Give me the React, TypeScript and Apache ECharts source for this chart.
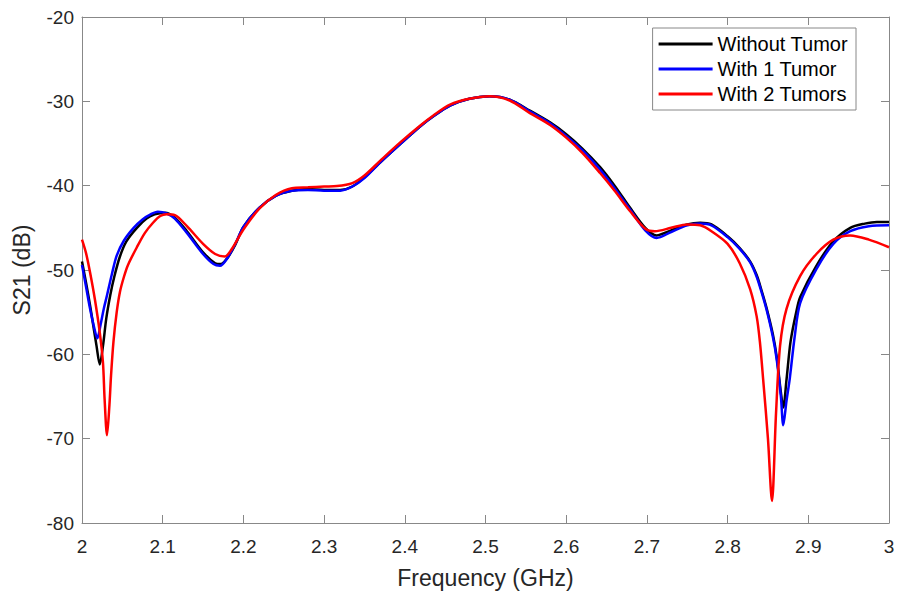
import React, { useEffect, useRef } from "react";
import * as echarts from "echarts";

const seriesNames = ["Without Tumor", "With 1 Tumor", "With 2 Tumors"];
const seriesColors = ["#000000", "#0000ff", "#ff0000"];

const xTicks = { min: 2, max: 3, interval: 0.1 };
const yTicks = { min: -80, max: -20, interval: 10 };

const withoutTumor: [number, number][] = [
  [2.0, -49.0], [2.005, -51.5], [2.01, -54.2], [2.015, -57.2], [2.018, -59.0], [2.022, -61.2],
  [2.026, -59.0], [2.03, -55.8], [2.035, -53.0], [2.04, -50.8], [2.047, -48.4], [2.055, -46.6],
  [2.068, -45.0], [2.08, -43.9], [2.09, -43.4], [2.103, -43.2], [2.115, -43.8], [2.13, -45.4],
  [2.15, -47.9], [2.165, -49.2], [2.172, -49.3], [2.18, -48.6], [2.19, -47.0], [2.2, -44.9],
  [2.22, -42.6], [2.24, -41.2], [2.26, -40.6], [2.28, -40.4], [2.3, -40.5], [2.32, -40.5],
  [2.335, -40.1], [2.35, -39.0], [2.37, -37.2], [2.394, -35.1], [2.42, -32.9], [2.435, -31.8],
  [2.456, -30.5], [2.48, -29.7], [2.505, -29.4], [2.53, -29.8], [2.555, -31.1], [2.58, -32.5],
  [2.6, -33.9], [2.62, -35.6], [2.642, -37.8], [2.66, -40.0], [2.679, -42.6], [2.698, -45.0],
  [2.712, -45.9], [2.73, -45.3], [2.75, -44.6], [2.766, -44.4], [2.78, -44.6], [2.8, -46.0],
  [2.815, -47.4], [2.828, -49.0], [2.836, -50.6], [2.842, -52.4], [2.848, -54.4], [2.856, -57.6],
  [2.861, -60.4], [2.866, -64.5], [2.869, -66.3], [2.873, -63.0], [2.878, -58.5], [2.885, -55.0],
  [2.89, -53.2], [2.91, -49.5], [2.931, -46.6], [2.952, -45.0], [2.97, -44.5], [2.985, -44.3],
  [3.0, -44.3],
];

const withOneTumor: [number, number][] = [
  [2.0, -49.4], [2.005, -52.0], [2.01, -54.6], [2.015, -56.8], [2.019, -58.1], [2.023, -56.5],
  [2.027, -54.6], [2.031, -53.0], [2.037, -50.5], [2.043, -48.3], [2.052, -46.5], [2.064, -45.0],
  [2.075, -44.0], [2.085, -43.4], [2.094, -43.1], [2.105, -43.3], [2.115, -43.9], [2.13, -45.6],
  [2.15, -48.1], [2.163, -49.3], [2.171, -49.5], [2.18, -48.6], [2.19, -46.9], [2.2, -44.9],
  [2.22, -42.6], [2.24, -41.2], [2.26, -40.6], [2.28, -40.5], [2.3, -40.6], [2.32, -40.6],
  [2.335, -40.1], [2.35, -39.1], [2.37, -37.2], [2.394, -35.1], [2.42, -32.9], [2.435, -31.8],
  [2.456, -30.5], [2.48, -29.7], [2.505, -29.4], [2.53, -29.8], [2.555, -31.2], [2.58, -32.6],
  [2.6, -34.1], [2.62, -35.8], [2.642, -38.1], [2.66, -40.3], [2.679, -42.8], [2.698, -45.3],
  [2.712, -46.2], [2.73, -45.5], [2.75, -44.7], [2.766, -44.5], [2.78, -44.7], [2.8, -46.1],
  [2.815, -47.5], [2.828, -49.1], [2.836, -50.8], [2.842, -52.6], [2.848, -54.6], [2.856, -57.9],
  [2.861, -60.7], [2.866, -65.0], [2.869, -68.4], [2.873, -65.5], [2.877, -62.9], [2.883, -58.0],
  [2.89, -53.9], [2.91, -49.9], [2.931, -46.9], [2.952, -45.4], [2.975, -44.8], [3.0, -44.7],
];

const withTwoTumors: [number, number][] = [
  [2.0, -46.4], [2.005, -48.0], [2.01, -50.3], [2.016, -53.5], [2.022, -57.4], [2.026, -61.0],
  [2.028, -65.3], [2.031, -69.6], [2.034, -66.0], [2.036, -62.5], [2.039, -58.5], [2.043, -55.0],
  [2.047, -52.6], [2.052, -50.8], [2.057, -49.4], [2.068, -47.3], [2.078, -45.6], [2.088, -44.4],
  [2.097, -43.6], [2.105, -43.4], [2.115, -43.5], [2.13, -44.8], [2.15, -46.9], [2.165, -48.1],
  [2.177, -48.4], [2.185, -47.6], [2.2, -45.2], [2.22, -42.7], [2.24, -41.1], [2.26, -40.3],
  [2.28, -40.2], [2.3, -40.1], [2.316, -40.05], [2.335, -39.7], [2.35, -38.8], [2.37, -37.0],
  [2.394, -34.9], [2.42, -32.8], [2.435, -31.7], [2.456, -30.4], [2.48, -29.7], [2.505, -29.4],
  [2.53, -29.9], [2.555, -31.4], [2.58, -32.8], [2.6, -34.3], [2.62, -36.1], [2.642, -38.5],
  [2.66, -40.6], [2.679, -43.0], [2.698, -45.1], [2.71, -45.4], [2.73, -45.0], [2.75, -44.6],
  [2.766, -44.7], [2.78, -45.4], [2.8, -46.9], [2.815, -49.2], [2.828, -52.3], [2.836, -55.5],
  [2.84, -58.5], [2.844, -62.9], [2.85, -70.0], [2.855, -77.4], [2.86, -67.0], [2.865, -59.0],
  [2.873, -54.6], [2.89, -50.7], [2.91, -48.1], [2.931, -46.4], [2.952, -45.9], [2.975, -46.4],
  [3.0, -47.3],
];

const allData = [withoutTumor, withOneTumor, withTwoTumors];

const FONT = "Liberation Sans, Arial, sans-serif";
const FRAME = "#888888";

export default function App() {
  const ref = useRef<HTMLDivElement>(null);
  useEffect(() => {
    document.body.style.margin = "0";
    if (!ref.current) return;
    const chart = echarts.init(ref.current, undefined, { renderer: "svg" });
    const tickStyle = { show: true, inside: true, length: 8, lineStyle: { color: FRAME, width: 1 } };
    const axisLine = { show: true, onZero: false, lineStyle: { color: FRAME, width: 1 } };
    chart.setOption({
      animation: false,
      backgroundColor: "#ffffff",
      textStyle: { fontFamily: FONT },
      grid: { left: 82, right: 17, top: 17, bottom: 70, show: false },
      legend: {
        data: seriesNames.map((name) => ({ name, icon: "rect" })),
        orient: "vertical",
        right: 50,
        top: 28,
        backgroundColor: "#ffffff",
        borderColor: FRAME,
        borderWidth: 1,
        borderRadius: 0,
        padding: [6, 8, 6, 6],
        itemWidth: 54,
        itemHeight: 3,
        itemGap: 5,
        textStyle: { fontFamily: FONT, fontSize: 20, color: "#000", lineHeight: 20 },
      },
      xAxis: [
        {
          type: "value",
          min: xTicks.min,
          max: xTicks.max,
          interval: xTicks.interval,
          name: "Frequency (GHz)",
          nameLocation: "middle",
          nameGap: 43,
          nameTextStyle: { fontFamily: FONT, fontSize: 23, color: "#262626" },
          axisLine,
          axisTick: tickStyle,
          splitLine: { show: false },
          axisLabel: { fontFamily: FONT, fontSize: 19, color: "#262626", margin: 14 },
        },
        {
          type: "value",
          position: "top",
          min: xTicks.min,
          max: xTicks.max,
          interval: xTicks.interval,
          axisLine,
          axisTick: tickStyle,
          splitLine: { show: false },
          axisLabel: { show: false },
        },
      ],
      yAxis: [
        {
          type: "value",
          min: yTicks.min,
          max: yTicks.max,
          interval: yTicks.interval,
          name: "S21 (dB)",
          nameLocation: "middle",
          nameGap: 49,
          nameTextStyle: { fontFamily: FONT, fontSize: 23, color: "#262626" },
          axisLine,
          axisTick: tickStyle,
          splitLine: { show: false },
          axisLabel: { fontFamily: FONT, fontSize: 19, color: "#262626", margin: 8 },
        },
        {
          type: "value",
          position: "right",
          min: yTicks.min,
          max: yTicks.max,
          interval: yTicks.interval,
          axisLine,
          axisTick: tickStyle,
          splitLine: { show: false },
          axisLabel: { show: false },
        },
      ],
      series: seriesNames.map((name, i) => ({
        name,
        type: "line",
        xAxisIndex: 0,
        yAxisIndex: 0,
        data: allData[i],
        symbol: "none",
        smooth: 0.3,
        lineStyle: { color: seriesColors[i], width: 2.5 },
        itemStyle: { color: seriesColors[i] },
        z: 3 + i,
      })),
    });
    return () => chart.dispose();
  }, []);
  return <div ref={ref} style={{ width: 906, height: 594 }} />;
}
